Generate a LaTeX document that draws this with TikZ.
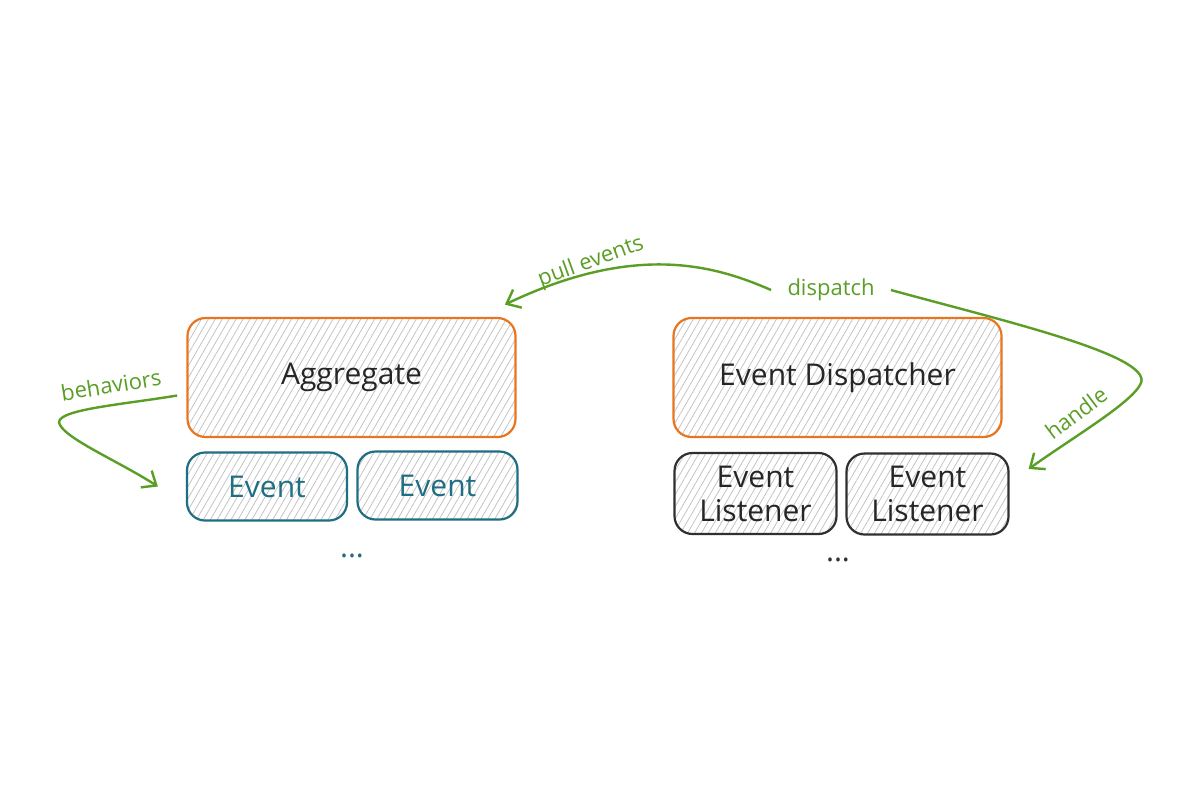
\documentclass[tikz,border=0pt]{standalone}
\usepackage{fontspec}
\setmainfont{Open Sans}
\usepackage{tikz}
\usetikzlibrary{arrows.meta,patterns.meta,positioning}
\definecolor{aggorange}{HTML}{E8761F}
\definecolor{evteal}{HTML}{1F6E82}
\definecolor{lstgray}{HTML}{303030}
\definecolor{flowgreen}{HTML}{5A9E26}
\definecolor{hatch}{HTML}{C4C4C4}

\begin{document}
\begin{tikzpicture}[x=0.5pt, y=-0.5pt,
        box/.style={draw, line width=1.1pt, rounded corners=9pt, inner sep=0pt, align=center,
            pattern={Lines[angle=60,distance=3pt,line width=0.4pt]}, pattern color=hatch,
            font=\fontsize{15}{17}\selectfont},
        core/.style={box, draw=aggorange, text=black!85, minimum width=164pt, minimum height=59.5pt},
        evt/.style={box, draw=evteal, text=evteal, minimum width=80pt, minimum height=34pt},
        lst/.style={box, draw=lstgray, text=black!85, minimum width=81pt, minimum height=40.5pt},
        dots/.style={font=\fontsize{15}{17}\selectfont, inner sep=0pt},
        lbl/.style={text=flowgreen, font=\fontsize{11}{13}\selectfont, inner sep=1pt},
        flow/.style={draw=flowgreen, line width=1.2pt, -{Straight Barb[length=6pt,width=10pt]}}]
    \fill[white] (0,0) rectangle (1200,800);
    \useasboundingbox (0,0) rectangle (1200,800);

    \node[core] (agg) at (351.5,377.5) {Aggregate};
    \node[evt] (ev1) at (267,486.5) {Event};
    \node[evt] (ev2) at (437.5,485.5) {Event};
    \node[dots, text=evteal] (evdots) at (352,556) {...};

    \node[core] (disp) at (837.5,377.5) {Event Dispatcher};
    \node[lst] (ls1) at (755.5,493.5) {Event\\Listener};
    \node[lst] (ls2) at (927.5,494) {Event\\Listener};
    \node[dots, text=lstgray] (lsdots) at (838,560) {...};

    \node[lbl, rotate=9] (beh) at (111,385) {behaviors};
    \node[lbl, rotate=20] (pull) at (591,262) {pull events};
    \node[lbl, inner xsep=8pt] (dsp) at (831,290) {dispatch};
    \node[lbl, rotate=37] (hdl) at (1076,413) {handle};

    \coordinate (pulltip) at ([shift={(-5.5pt,6.5pt)}]agg.north east);
    \coordinate (behtip) at ([xshift=-14pt]ev1.west);
    \coordinate (hdltip) at ([shift={(9.5pt,12.5pt)}]ls2.east);

    \draw[flow] (dsp.west) .. controls (720,268) and (640,240) .. (pulltip);
    \draw[flow] (dsp.east) .. controls (1000,320) and (1152,355) .. (1141,383)
        .. controls (1133,402) and (1075,436) .. (hdltip);
    \draw[flow] ([shift={(-5pt,-9pt)}]agg.west) .. controls (120,405) and (50,410) .. (60,425)
        .. controls (68,440) and (120,462) .. (behtip);
\end{tikzpicture}
\end{document}
